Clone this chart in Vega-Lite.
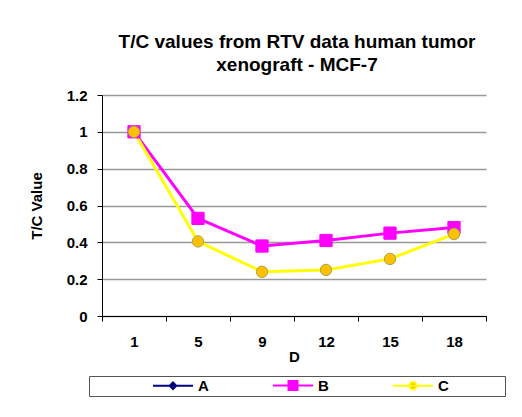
{
  "$schema": "https://vega.github.io/schema/vega-lite/v6.json",
  "autosize": "none",
  "width": 384,
  "height": 221,
  "padding": {"left": 102, "top": 95, "right": 36, "bottom": 101},
  "background": "white",
  "config": {
    "view": {"stroke": null},
    "font": "Liberation Sans"
  },
  "title": {
    "text": ["T/C values from RTV data human tumor", "xenograft - MCF-7"],
    "font": "Liberation Sans",
    "fontSize": 19,
    "fontWeight": "bold",
    "color": "#000000",
    "anchor": "middle",
    "lineHeight": 23,
    "offset": 13,
    "dx": 3
  },
  "data": {
    "values": [
      {"D": "1", "series": "B", "value": 1.0},
      {"D": "5", "series": "B", "value": 0.53},
      {"D": "9", "series": "B", "value": 0.38},
      {"D": "12", "series": "B", "value": 0.41},
      {"D": "15", "series": "B", "value": 0.45},
      {"D": "18", "series": "B", "value": 0.48},
      {"D": "1", "series": "C", "value": 1.0},
      {"D": "5", "series": "C", "value": 0.405},
      {"D": "9", "series": "C", "value": 0.24},
      {"D": "12", "series": "C", "value": 0.25},
      {"D": "15", "series": "C", "value": 0.31},
      {"D": "18", "series": "C", "value": 0.445}
    ]
  },
  "encoding": {
    "x": {
      "field": "D",
      "type": "ordinal",
      "sort": ["1", "5", "9", "12", "15", "18"],
      "scale": {"type": "band", "paddingInner": 0, "paddingOuter": 0},
      "axis": {
        "title": "D",
        "titleFont": "Liberation Sans",
        "titleFontSize": 15,
        "titleFontWeight": "bold",
        "titleColor": "#000000",
        "titlePadding": 0,
        "labelFont": "Liberation Sans",
        "labelFontSize": 15,
        "labelFontWeight": "bold",
        "labelColor": "#000000",
        "labelAngle": 0,
        "labelPadding": 13,
        "tickBand": "extent",
        "tickSize": 5,
        "tickColor": "#000000",
        "domainColor": "#000000",
        "grid": false
      }
    },
    "y": {
      "field": "value",
      "type": "quantitative",
      "scale": {"domain": [0, 1.2], "nice": false},
      "axis": {
        "title": "T/C Value",
        "titleFont": "Liberation Sans",
        "titleFontSize": 15,
        "titleFontWeight": "bold",
        "titleColor": "#000000",
        "titlePadding": 22,
        "values": [0, 0.2, 0.4, 0.6, 0.8, 1, 1.2],
        "format": "~g",
        "labelFont": "Liberation Sans",
        "labelFontSize": 15,
        "labelFontWeight": "bold",
        "labelColor": "#000000",
        "labelPadding": 10,
        "tickSize": 5,
        "tickColor": "#000000",
        "domainColor": "#000000",
        "grid": true,
        "gridColor": "#999999",
        "gridWidth": 1.5
      }
    }
  },
  "layer": [
    {
      "mark": {"type": "line", "strokeWidth": 3},
      "encoding": {
        "stroke": {
          "field": "series",
          "type": "nominal",
          "scale": {"domain": ["A", "B", "C"], "range": ["#000080", "#FF00FF", "#FFFF00"]},
          "legend": {
            "title": null,
            "orient": "none",
            "direction": "horizontal",
            "legendX": -13,
            "legendY": 281,
            "strokeColor": "#555555",
            "fillColor": "white",
            "padding": 2,
            "columnPadding": 60,
            "symbolSize": 100,
            "symbolStrokeWidth": 2,
            "symbolOffset": 12.5,
            "labelFont": "Liberation Sans",
            "labelFontSize": 15,
            "labelFontWeight": "bold",
            "labelColor": "#000000",
            "labelOffset": 17.5,
            "encode": {
              "symbols": {
                "update": {
                  "x": {"signal": "datum.value === 'A' ? 82 : 20"},
                  "shape": {"signal": "datum.value === 'A' ? 'M-4,0H4M-0.65,0L0,-0.65L0.65,0L0,0.65Z' : datum.value === 'B' ? 'M-4,0H4M-0.9,-0.9H0.9V0.9H-0.9Z' : 'M17.2,0M-4,0H4M-0.75,0A0.75,0.75,0,1,1,0.75,0A0.75,0.75,0,1,1,-0.75,0Z'"},
                  "fill": {"signal": "datum.value === 'A' ? '#000080' : datum.value === 'B' ? '#FF00FF' : '#FFC000'"},
                  "strokeWidth": {"value": 2}
                }
              },
              "labels": {
                "update": {
                  "x": {"signal": "datum.value === 'A' ? 107 : 45"}
                }
              }
            }
          }
        }
      }
    },
    {
      "mark": {"type": "point", "filled": true, "opacity": 1, "strokeWidth": 1},
      "encoding": {
        "shape": {
          "condition": {"test": "datum.series === 'B'", "value": "square"},
          "value": "circle"
        },
        "fill": {
          "condition": {"test": "datum.series === 'B'", "value": "#FF00FF"},
          "value": "#FFC000"
        },
        "size": {
          "condition": {"test": "datum.series === 'B'", "value": 150},
          "value": 130
        },
        "stroke": {
          "condition": {"test": "datum.series === 'C'", "value": "#A8A848"},
          "value": "#FF00FF"
        }
      }
    }
  ]
}
